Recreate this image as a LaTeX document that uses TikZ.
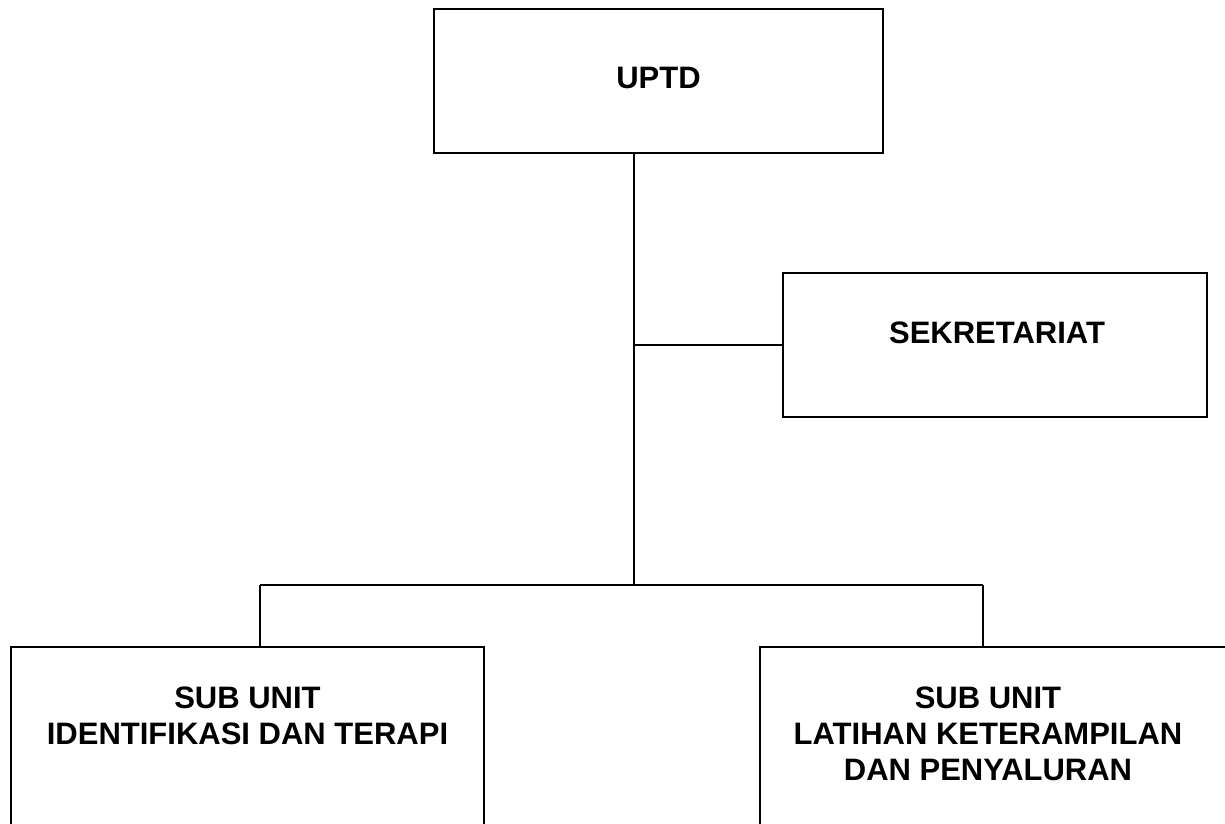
\documentclass[tikz,border=0pt]{standalone}
\usepackage{fontspec}
\setmainfont{Liberation Sans}
\begin{document}
\begin{tikzpicture}[x=1pt,y=-1pt,
  box/.style={draw=black, line width=2pt, rectangle, inner sep=0pt},
  lbl/.style={font=\bfseries\fontsize{31}{36}\selectfont, align=center, inner sep=0pt},
  conn/.style={draw=black, line width=1.6pt}]
\useasboundingbox (0,0) rectangle (1225,823);
\clip (0,0) rectangle (1225,823);
% boxes
\node[box, minimum width=449pt, minimum height=144pt] (uptd) at (658.5,81) {};
\node[box, minimum width=424pt, minimum height=144pt] (sek) at (995,345) {};
\node[box, minimum width=473pt, minimum height=200pt] (sub1) at (247.5,747) {};
\node[box, minimum width=480pt, minimum height=200pt] (sub2) at (1000,747) {};
% texts
\node[lbl] (tuptd) at (658.5,78) {UPTD};
\node[lbl] (tsek) at (997,333) {SEKRETARIAT};
\node[lbl] (tsub1) at (247.5,716) {SUB UNIT\\IDENTIFIKASI DAN TERAPI};
\node[lbl] (tsub2) at (988,734) {SUB UNIT\\LATIHAN KETERAMPILAN\\DAN PENYALURAN};
% junctions
\coordinate (j) at (634,585);
\coordinate (s) at (634,345);
\coordinate (jl) at (260,585);
\coordinate (jr) at (983,585);
% connectors
\draw[conn] (uptd.south -| j) -- (j);
\draw[conn] (s) -- (sek.west);
\draw[conn] (jl) -- (jr);
\draw[conn] (jl) -- (jl |- sub1.north);
\draw[conn] (jr) -- (jr |- sub2.north);
\end{tikzpicture}
\end{document}
